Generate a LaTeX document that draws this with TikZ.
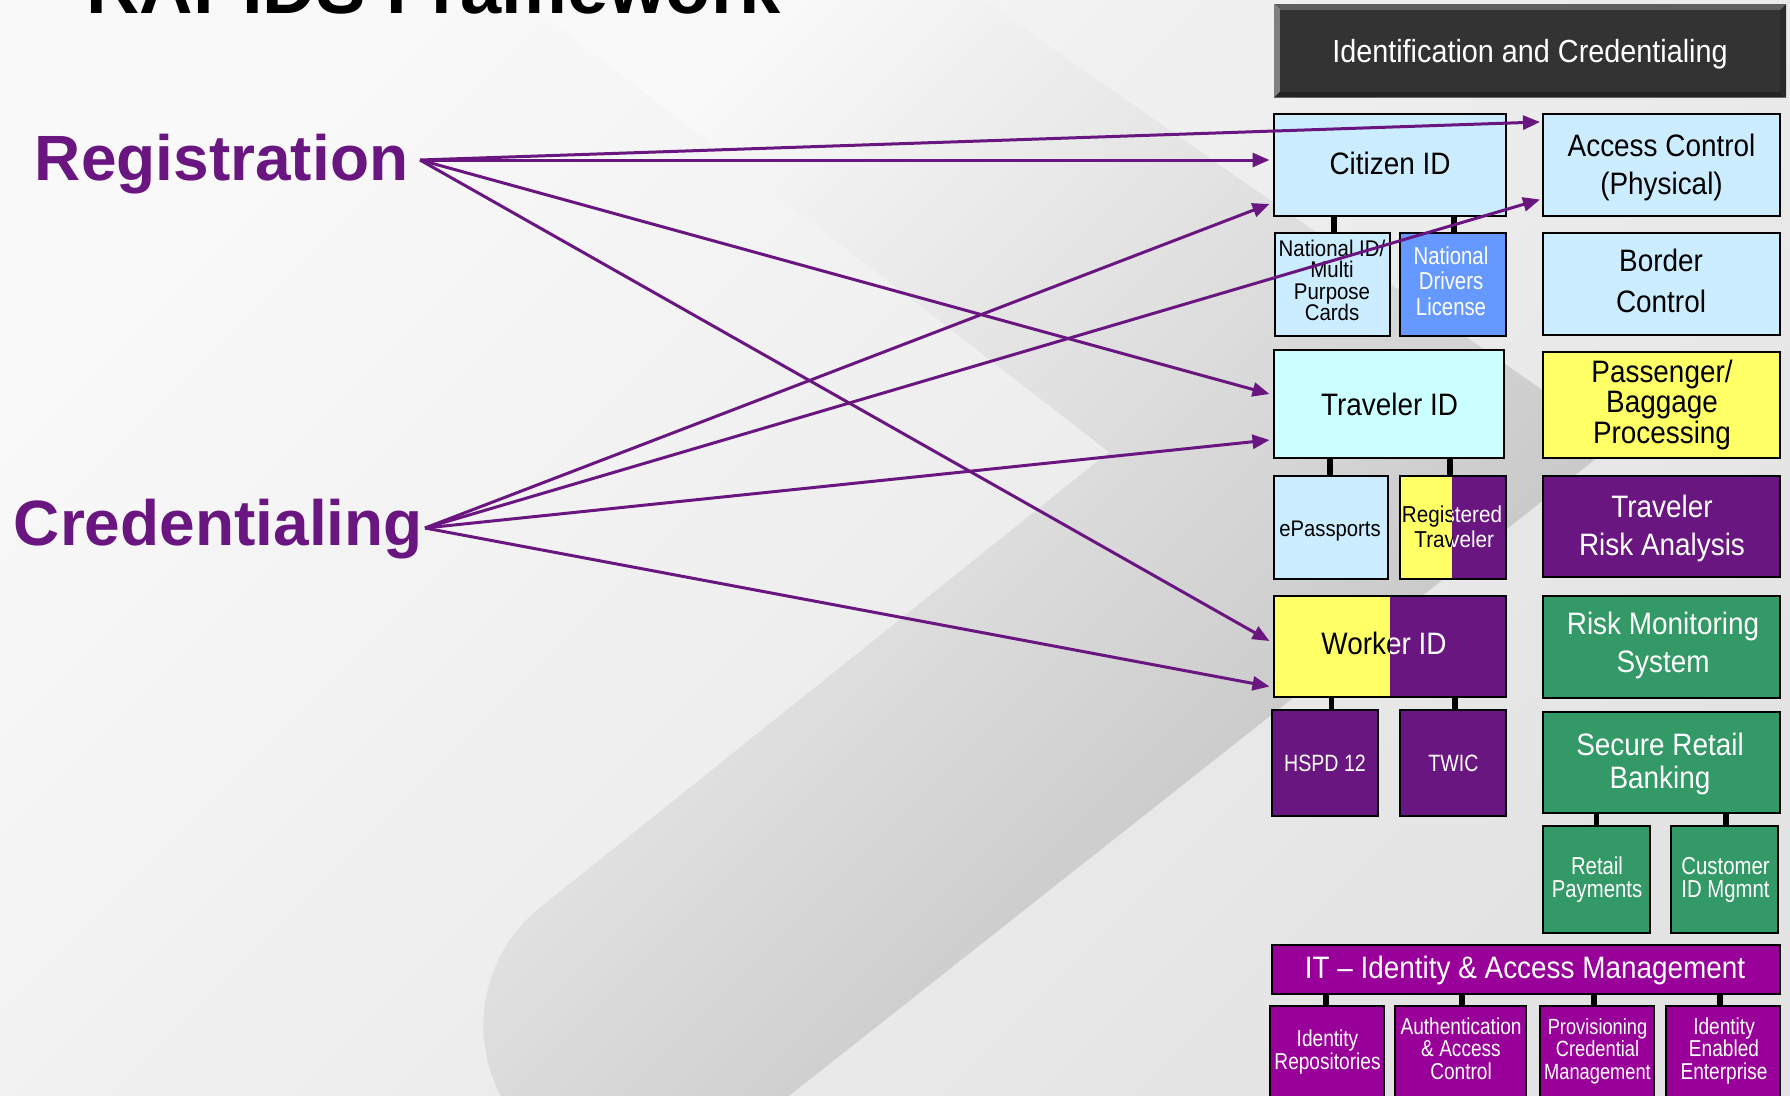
\documentclass[tikz,border=0pt]{standalone}
\usepackage{fontspec}
\setmainfont{Liberation Sans}
\newfontfamily\bxf[FakeStretch=0.9]{Liberation Sans}
\newfontfamily\nrf[FakeStretch=0.83]{Liberation Sans}
\usetikzlibrary{arrows.meta}

\definecolor{rapid}{HTML}{6A1680}
\definecolor{pur}{HTML}{6A1680}
\definecolor{mag}{HTML}{990099}
\definecolor{grn}{HTML}{339966}
\definecolor{lblue}{HTML}{CCECFF}
\definecolor{cyanbox}{HTML}{CCFFFF}
\definecolor{ndlblue}{HTML}{6699FF}
\definecolor{yel}{HTML}{FFFF66}
\definecolor{bgA}{gray}{0.976}
\definecolor{bgB}{gray}{0.89}
\definecolor{swA}{gray}{0.978}
\definecolor{swB}{gray}{0.725}
\definecolor{bvTop}{HTML}{5F5F5F}
\definecolor{bvLeft}{HTML}{808080}
\definecolor{bvRight}{HTML}{2A2A2A}
\definecolor{bvBot}{HTML}{232323}
\definecolor{bvFace}{HTML}{333333}

\newcommand\fsz[2]{\fontsize{#1}{#2}\selectfont}

\begin{document}
\begin{tikzpicture}[x=1pt,y=-1pt,
  box/.style={draw=black,line width=2.2pt,inner sep=0pt,outer sep=0pt},
  lbl/.style={inner sep=0pt,outer sep=0pt,align=center,anchor=base},
  stub/.style={draw=black,line width=5.5pt},
  arr/.style={draw=rapid,line width=3pt,-{Triangle[length=17pt,width=14pt]}},
  split/.style={path picture={\fill[pur] ([xshift=#1]path picture bounding box.north) rectangle (path picture bounding box.south east);}}
]
\useasboundingbox (0,0) rectangle (1790,1095);
\begin{scope}
\clip (0,0) rectangle (1790,1095);

% slide background and the grey swoosh
\shade[top color=bgA,bottom color=bgB,shading angle=45] (0,0) rectangle (1790,1095);
\shade[top color=swA,bottom color=swB,shading angle=45]
  (525,0) -- (1109,452) [rounded corners=150pt] -- (422.9,1001.3) -- (609.5,1237.6)
  [sharp corners] -- (1617,442) -- (983,0) -- cycle;

% title and the two process labels
\node[anchor=base west,inner sep=0pt,font=\fsz{74}{80}\bfseries] (ttl) at (86,13) {RAPIDS Framework};
\node[anchor=base east,inner sep=0pt,text=rapid,font=\fsz{64}{70}\bfseries] (reg) at (408.5,180) {Registration};
\node[anchor=base east,inner sep=0pt,text=rapid,font=\fsz{64}{70}\bfseries] (cred) at (423,545) {Credentialing};
\coordinate (rego) at ([shift={(11.5,-20)}]reg.base east);
\coordinate (credo) at ([shift={(2,-17)}]cred.base east);

% header with bevel
\node[inner sep=0pt,outer sep=0pt,minimum width=512pt,minimum height=93.7pt] (hdr) at (1530,50.85) {};
\coordinate (hnw) at ([shift={(6,6)}]hdr.north west);
\coordinate (hne) at ([shift={(-6,6)}]hdr.north east);
\coordinate (hse) at ([shift={(-6,-6)}]hdr.south east);
\coordinate (hsw) at ([shift={(6,-6)}]hdr.south west);
\fill[bvTop] (hdr.north west) -- (hdr.north east) -- (hne) -- (hnw) -- cycle;
\fill[bvLeft] (hdr.north west) -- (hnw) -- (hsw) -- (hdr.south west) -- cycle;
\fill[bvRight] (hdr.north east) -- (hdr.south east) -- (hse) -- (hne) -- cycle;
\fill[bvBot] (hdr.south west) -- (hsw) -- (hse) -- (hdr.south east) -- cycle;
\fill[bvFace] (hnw) rectangle (hse);
\node[lbl,text=white,font=\bxf\fsz{32}{38}] (hdr-t) at (1530,62.5) {Identification and Credentialing};

% left column
\node[box,fill=lblue,minimum width=232pt,minimum height=102pt] (cit) at (1390,165) {};
\node[box,fill=lblue,minimum width=115pt,minimum height=103pt] (nat) at (1332.5,284.5) {};
\node[box,fill=ndlblue,minimum width=106pt,minimum height=103pt] (ndl) at (1453,284.5) {};
\node[box,fill=cyanbox,minimum width=230pt,minimum height=108pt] (trv) at (1389,404) {};
\node[box,fill=lblue,minimum width=114pt,minimum height=103pt] (epa) at (1331,527.5) {};
\node[box,fill=yel,split=-1pt,minimum width=106pt,minimum height=103pt] (rgt) at (1453,527.5) {};
\node[box,fill=yel,split=0pt,minimum width=232pt,minimum height=101pt] (wrk) at (1390,646.5) {};
\node[box,fill=pur,minimum width=106pt,minimum height=106pt] (hsp) at (1325,763) {};
\node[box,fill=pur,minimum width=106pt,minimum height=106pt] (twc) at (1453,763) {};

% right column
\node[box,fill=lblue,minimum width=237pt,minimum height=102pt] (acc) at (1661.5,165) {};
\node[box,fill=lblue,minimum width=237pt,minimum height=102pt] (bor) at (1661.5,284) {};
\node[box,fill=yel,minimum width=237pt,minimum height=106pt] (pas) at (1661.5,405) {};
\node[box,fill=pur,minimum width=237pt,minimum height=101pt] (tra) at (1661.5,526.5) {};
\node[box,fill=grn,minimum width=237pt,minimum height=102pt] (rms) at (1661.5,647) {};
\node[box,fill=grn,minimum width=237pt,minimum height=101pt] (srb) at (1661.5,762.5) {};
\node[box,fill=grn,minimum width=107pt,minimum height=107pt] (rtp) at (1596.5,879.5) {};
\node[box,fill=grn,minimum width=107pt,minimum height=107pt] (cim) at (1724.5,879.5) {};

% identity and access management row
\node[box,fill=mag,minimum width=508pt,minimum height=49pt] (itb) at (1526,969.5) {};
\node[box,fill=mag,minimum width=114pt,minimum height=104pt] (idr) at (1327,1058) {};
\node[box,fill=mag,minimum width=131pt,minimum height=104pt] (aac) at (1460.5,1058) {};
\node[box,fill=mag,minimum width=114pt,minimum height=104pt] (pcm) at (1597,1058) {};
\node[box,fill=mag,minimum width=114pt,minimum height=104pt] (iee) at (1723,1058) {};

% tree stubs
\draw[stub] ([xshift=1.5pt]nat.north) -- ([xshift=1.5pt]nat.north |- cit.south);
\draw[stub] ([xshift=1pt]ndl.north) -- ([xshift=1pt]ndl.north |- cit.south);
\draw[stub] ([xshift=-1pt]epa.north) -- ([xshift=-1pt]epa.north |- trv.south);
\draw[stub] ([xshift=-3pt]rgt.north) -- ([xshift=-3pt]rgt.north |- trv.south);
\draw[stub] ([xshift=6.5pt]hsp.north) -- ([xshift=6.5pt]hsp.north |- wrk.south);
\draw[stub] ([xshift=2pt]twc.north) -- ([xshift=2pt]twc.north |- wrk.south);
\draw[stub] (rtp.north) -- (rtp.north |- srb.south);
\draw[stub] ([xshift=1.5pt]cim.north) -- ([xshift=1.5pt]cim.north |- srb.south);
\draw[stub] ([xshift=-1pt]idr.north) -- ([xshift=-1pt]idr.north |- itb.south);
\draw[stub] ([xshift=1.5pt]aac.north) -- ([xshift=1.5pt]aac.north |- itb.south);
\draw[stub] ([xshift=-3pt]pcm.north) -- ([xshift=-3pt]pcm.north |- itb.south);
\draw[stub] ([xshift=-3pt]iee.north) -- ([xshift=-3pt]iee.north |- itb.south);

% box labels (each placed on the baseline of its last line)
\node[lbl,font=\bxf\fsz{31}{38}] (cit-t) at (1390,174.5) {Citizen ID};
\node[lbl,font=\bxf\fsz{31}{38}] (acc-t) at (1661.5,194.2) {Access Control\\(Physical)};
\node[lbl,font=\bxf\fsz{22.7}{21.4}] (nat-t) at (1332,320.4) {National ID/\\Multi\\Purpose\\Cards};
\node[lbl,text=white,font=\nrf\fsz{24.5}{25.4}] (ndl-t) at (1451,315.1) {National\\Drivers\\License};
\node[lbl,font=\bxf\fsz{31}{40.6}] (bor-t) at (1661,312.1) {Border\\Control};
\node[lbl,font=\bxf\fsz{31}{38}] (trv-t) at (1389.5,415) {Traveler ID};
\node[lbl,font=\bxf\fsz{31}{30.4}] (pas-t) at (1662,443.1) {Passenger/\\Baggage\\Processing};
\node[lbl,font=\bxf\fsz{22.5}{26}] (epa-t) at (1330,536.8) {ePassports};
\begin{scope}
  \clip (rgt.north west) rectangle ([xshift=-1pt]rgt.south);
  \node[lbl,font=\bxf\fsz{23}{25.3}] (rgt-t) at (1452,547.9) {Registered\\Traveler};
\end{scope}
\begin{scope}
  \clip ([xshift=-1pt]rgt.north) rectangle (rgt.south east);
  \node[lbl,text=white,font=\bxf\fsz{23}{25.3}] (rgt-w) at (1452,547.9) {Registered\\\hspace*{9pt}Traveler};
\end{scope}
\node[lbl,text=white,font=\bxf\fsz{31}{38.2}] (tra-t) at (1662,555.7) {Traveler\\Risk Analysis};
\begin{scope}
  \clip (wrk.north west) rectangle (wrk.south);
  \node[lbl,font=\bxf\fsz{31}{38}] (wrk-t) at (1384,654.4) {Worker ID};
\end{scope}
\begin{scope}
  \clip (wrk.north) rectangle (wrk.south east);
  \node[lbl,text=white,font=\bxf\fsz{31}{38}] (wrk-w) at (1384,654.4) {Worker ID};
\end{scope}
\node[lbl,text=white,font=\bxf\fsz{31}{38.9}] (rms-t) at (1663,672.9) {Risk Monitoring\\System};
\node[lbl,text=white,font=\nrf\fsz{23.6}{26}] (hsp-t) at (1325,771) {HSPD 12};
\node[lbl,text=white,font=\nrf\fsz{23.6}{26}] (twc-t) at (1453.5,771) {TWIC};
\node[lbl,text=white,font=\bxf\fsz{31}{32.8}] (srb-t) at (1660,788.6) {Secure Retail\\Banking};
\node[lbl,text=white,font=\nrf\fsz{24.5}{23.6}] (rtp-t) at (1597,897.8) {Retail\\Payments};
\node[lbl,text=white,font=\nrf\fsz{24.5}{23.6}] (cim-t) at (1725.5,897.8) {Customer\\ID Mgmnt};
\node[lbl,text=white,font=\bxf\fsz{31}{34}] (itb-t) at (1525,978.2) {IT – Identity \& Access Management};
\node[lbl,text=white,font=\nrf\fsz{23}{19.6}] (idr-t) at (1327.5,1069) {Identity\\Repositories};
\node[lbl,text=white,font=\nrf\fsz{23}{22.5}] (aac-t) at (1461,1079) {Authentication\\\& Access\\Control};
\node[lbl,text=white,font=\nrf\fsz{22}{22.5}] (pcm-t) at (1597.5,1079) {Provisioning\\Credential\\Management};
\node[lbl,text=white,font=\nrf\fsz{23}{22.5}] (iee-t) at (1724,1079) {Identity\\Enabled\\Enterprise};

% registration and credentialing links
\draw[arr] (rego) -- ([shift={(-3,8)}]acc.north west);
\draw[arr] (rego) -- ([shift={(-4.5,46)}]cit.north west);
\draw[arr] (rego) -- ([shift={(-4.5,44)}]trv.north west);
\draw[arr] (rego) -- ([shift={(-4.5,45)}]wrk.north west);
\draw[arr] (credo) -- ([shift={(-4.5,90)}]cit.north west);
\draw[arr] (credo) -- ([shift={(-3,85.5)}]acc.north west);
\draw[arr] (credo) -- ([shift={(-4.5,90)}]trv.north west);
\draw[arr] (credo) -- ([shift={(-4.5,90.5)}]wrk.north west);
\end{scope}
\end{tikzpicture}
\end{document}
